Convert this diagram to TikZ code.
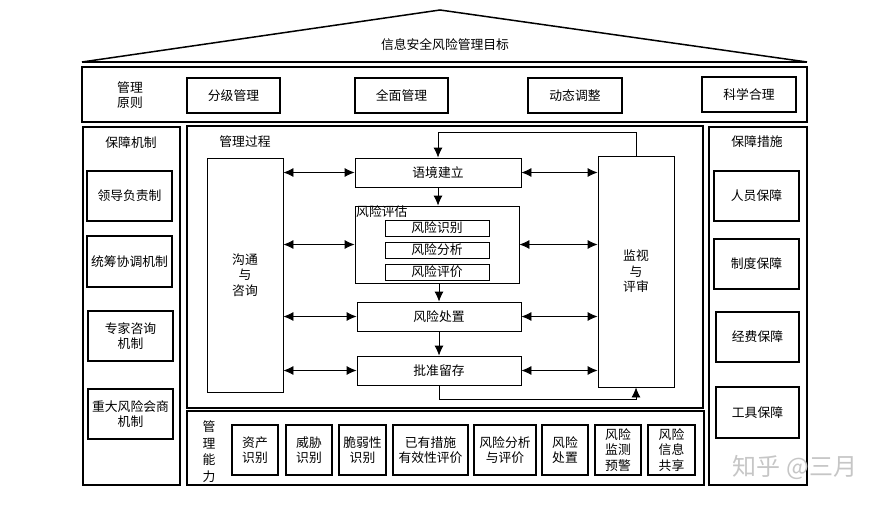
\documentclass[tikz,border=0pt]{standalone}
\usepackage{fontspec}
\setmainfont{Noto Sans CJK SC}
\usetikzlibrary{arrows.meta}

\tikzset{
  cadre/.style={draw, line width=2pt},
  boite/.style={draw, line width=1.8pt, inner sep=0pt, align=center},
  etape/.style={draw, line width=0.8pt, inner sep=0pt, align=center},
  fleche/.style={line width=0.8pt, -{Latex[length=10pt,width=9pt]}},
  fleches/.style={line width=0.8pt, {Latex[length=10pt,width=9pt]}-{Latex[length=10pt,width=9pt]}},
}

\begin{document}
\begin{tikzpicture}[x=1pt,y=-1pt,
  every node/.style={font=\fontsize{12.8}{15.5}\selectfont}]

\useasboundingbox (0,0) rectangle (890,511);

% Toit
\draw[line width=1.5pt]
(82,62)
-- (440,10)
-- (807,62);
\draw[line width=2pt]
(82,62)
-- (807,62);

\node (objectif) at (445,45) {信息安全风险管理目标};

% Principes
\draw[cadre]
(82,67)
rectangle
(807,122);

\node[align=center] (principes) at (130,95) {管理\\原则};

\node[boite, minimum width=93pt, minimum height=35pt] (fenji) at (233.5,95.5) {分级管理};
\node[boite, minimum width=93pt, minimum height=35pt] (quanmian) at (401.5,95.5) {全面管理};
\node[boite, minimum width=94pt, minimum height=35pt] (dongtai) at (575,95.5) {动态调整};
\node[boite, minimum width=94pt, minimum height=35pt] (kexue) at (749,94.5) {科学合理};

% Mecanismes
\draw[cadre]
(83,127)
rectangle
(180,485);

\node (mecanismes) at (131,143) {保障机制};

\node[boite, minimum width=85pt, minimum height=50pt] (lingdao) at (129.5,196) {领导负责制};
\node[boite, minimum width=85pt, minimum height=51pt] (tongchou) at (129.5,261.5) {统筹协调机制};
\node[boite, minimum width=85pt, minimum height=50pt] (zhuanjia) at (130.5,336) {专家咨询\\机制};
\node[boite, minimum width=85pt, minimum height=50pt] (zhongda) at (130.5,414) {重大风险会商\\机制};

% Mesures
\draw[cadre]
(709,127)
rectangle
(807,485);

\node (mesures) at (757,142) {保障措施};

\node[boite, minimum width=85pt, minimum height=50pt] (renyuan) at (756.5,196) {人员保障};
\node[boite, minimum width=85pt, minimum height=50pt] (zhidu) at (756.5,264) {制度保障};
\node[boite, minimum width=83pt, minimum height=50pt] (jingfei) at (757.5,337) {经费保障};
\node[boite, minimum width=83pt, minimum height=51pt] (gongju) at (757.5,412.5) {工具保障};

% Processus
\draw[line width=2.5pt]
(187,126)
rectangle
(703,408);

\node (processus) at (245,142) {管理过程};

\node[etape, minimum width=76pt, minimum height=234pt] (goutong) at (245,275) {沟通\\与\\咨询};
\node[etape, minimum width=76pt, minimum height=231pt] (jianshi) at (636,271.5) {监视\\与\\评审};

\node[etape, minimum width=166pt, minimum height=29pt] (yujing) at (438,172.5) {语境建立};
\node[etape, minimum width=164pt, minimum height=77pt] (pinggu) at (437,244.5) {};
\node[anchor=north west, inner sep=0pt] (pinggutitre) at (356,205) {风险评估};
\node[etape, minimum width=104pt, minimum height=16pt] (shibie) at (437,228) {风险识别};
\node[etape, minimum width=104pt, minimum height=16pt] (fenxi) at (437,250) {风险分析};
\node[etape, minimum width=104pt, minimum height=16pt] (pingjia) at (437,272) {风险评价};
\node[etape, minimum width=164pt, minimum height=29pt] (chuzhi) at (439,316.5) {风险处置};
\node[etape, minimum width=164pt, minimum height=29pt] (pizhun) at (439,370.5) {批准留存};

\draw[fleche]
(yujing.south)
--
(yujing.south |- pinggu.north);

\draw[fleche]
(pinggu.south -| chuzhi.north)
--
(chuzhi.north);

\draw[fleche]
(chuzhi.south)
--
(pizhun.north);

\draw[fleche]
(jianshi.north)
-- ++(0,-23)
-| (yujing.north);

\draw[fleche]
(pizhun.south)
-- ++(0,14)
-| (jianshi.south);

\draw[fleches] (goutong.east |- yujing.west) -- (yujing.west);
\draw[fleches] (goutong.east |- pinggu.west) -- (pinggu.west);
\draw[fleches] (goutong.east |- chuzhi.west) -- (chuzhi.west);
\draw[fleches] (goutong.east |- pizhun.west) -- (pizhun.west);

\draw[fleches] (yujing.east) -- (jianshi.west |- yujing.east);
\draw[fleches] (pinggu.east) -- (jianshi.west |- pinggu.east);
\draw[fleches] (chuzhi.east) -- (jianshi.west |- chuzhi.east);
\draw[fleches] (pizhun.east) -- (jianshi.west |- pizhun.east);

% Capacites
\draw[cadre]
(187,411)
rectangle
(704,485);

\node[align=center, font=\fontsize{12.8}{16.5}\selectfont] (capacites) at (209,451.5) {管\\理\\能\\力};

\node[boite, line width=1.2pt, minimum width=46pt, minimum height=50pt] (zichan) at (255,450) {资产\\识别};
\node[boite, line width=1.2pt, minimum width=46pt, minimum height=50pt] (weixie) at (309,450) {威胁\\识别};
\node[boite, line width=1.2pt, minimum width=47pt, minimum height=50pt] (cuiruo) at (362.5,450) {脆弱性\\识别};
\node[boite, line width=1.2pt, minimum width=75pt, minimum height=50pt] (yiyou) at (430.5,450) {已有措施\\有效性评价};
\node[boite, line width=1.2pt, minimum width=62pt, minimum height=50pt] (fenxipj) at (505,450) {风险分析\\与评价};
\node[boite, line width=1.2pt, minimum width=46pt, minimum height=50pt] (chuzhicap) at (565,450) {风险\\处置};
\node[boite, line width=1.2pt, minimum width=46pt, minimum height=50pt] (jiance) at (618,450) {风险\\监测\\预警};
\node[boite, line width=1.2pt, minimum width=47pt, minimum height=50pt] (gongxiang) at (671.5,450) {风险\\信息\\共享};

% Filigrane
\node[text=gray!45, font=\fontsize{24}{26}\selectfont] (filigrane) at (795,467) {知乎 @三月};

\end{tikzpicture}
\end{document}
